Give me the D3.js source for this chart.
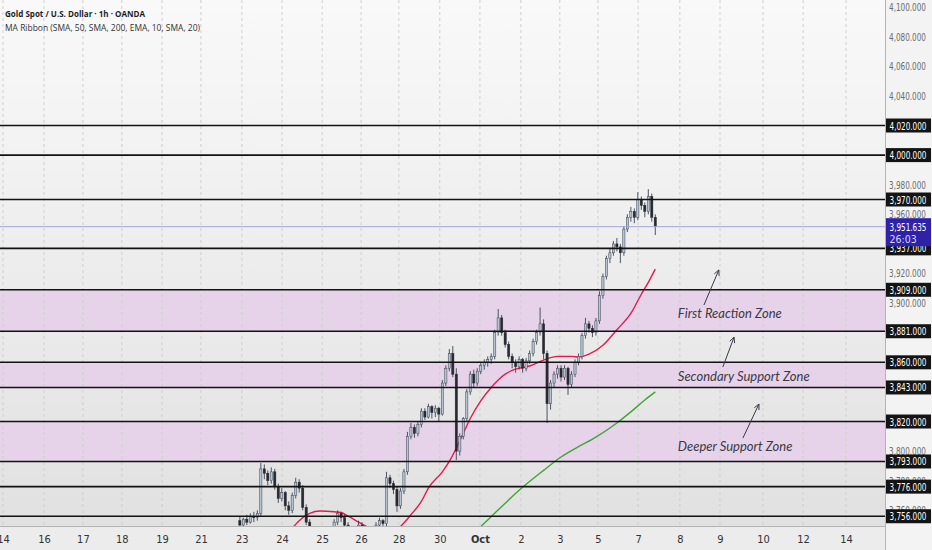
<!DOCTYPE html>
<html>
<head>
<meta charset="utf-8">
<script src="https://cdn.jsdelivr.net/npm/d3@7/dist/d3.min.js"></script>
<style>
  body { margin:0; background:#f4f4f4; }
  svg { display:block; }
</style>
</head>
<body>
<svg id="canvas" width="932" height="550"></svg>
<script>
// day labels on the time axis, and their position in trading-day units
var dayLabels = ["14","16","17","18","19","21","23","24","25","26","28","30","Oct","2","3","5","7","8","9","10","12","14"];
var dayPos    = [0, 1.02, 1.99, 2.96, 3.96, 4.93, 5.95, 6.95, 7.95, 8.92, 9.86, 10.88, 11.88, 12.90, 13.87, 14.82, 15.82, 16.86, 17.86, 18.93, 19.93, 21.00];

// price axis ticks that are not hidden by a tag
var priceTicks = [4100,4080,4060,4040,3980,3960,3920,3900,3800,3780,3760];

// horizontal levels drawn on the chart
var levels = [4020,4000,3970,3937,3909,3881,3860,3843,3820,3793,3776,3756];

// shaded zones [top, bottom]
var zones = [[3909,3881],[3860,3843],[3820,3793]];
var zoneNames = ["First Reaction Zone","Secondary Support Zone","Deeper Support Zone"];
// note anchor and arrow ends, as [day, price]
var noteAt    = [[16.81,3890],[16.81,3847.5],[16.81,3800]];
var arrowFrom = [[17.46,3898.7],[17.93,3856.8],[18.43,3808.8]];
var arrowTo   = [[17.83,3922.4],[18.21,3877],[18.83,3831.8]];

var lastPrice = 3951.635;
var countdown = "26:03";

// 2h candles [open, high, low, close], starting Sep 23
var candleStart = 5.90;
var candleStep = 2/23;
var bars = [
  [3753,3756,3749,3750],[3750,3755,3748,3754],[3754,3757,3750,3752],[3752,3758,3751,3756],
  [3756,3759,3752,3755],[3755,3760,3753,3758],[3758,3792,3756,3788],[3788,3791,3781,3785],
  [3785,3787,3777,3780],[3780,3789,3778,3786],[3786,3788,3774,3776],[3776,3778,3765,3768],
  [3768,3775,3766,3772],[3772,3773,3760,3763],[3763,3766,3757,3760],[3760,3772,3758,3770],
  [3770,3782,3768,3779],[3779,3781,3772,3775],[3775,3777,3760,3762],[3762,3764,3750,3752],
  [3752,3754,3743,3745],[3745,3747,3739,3742],[3742,3744,3735,3738],[3738,3743,3736,3740],
  [3740,3742,3733,3736],[3736,3744,3735,3741],[3741,3747,3739,3744],[3744,3754,3742,3752],
  [3752,3760,3750,3758],[3758,3759,3752,3755],[3755,3757,3748,3750],[3750,3752,3743,3745],
  [3745,3747,3740,3742],[3742,3748,3741,3746],[3746,3753,3745,3750],[3750,3752,3746,3748],
  [3748,3749,3742,3744],[3744,3746,3739,3741],[3741,3747,3740,3745],[3745,3752,3744,3750],
  [3750,3755,3748,3753],[3753,3754,3749,3751],[3751,3786,3749,3782],[3782,3784,3775,3778],
  [3778,3780,3771,3774],[3774,3776,3759,3763],[3763,3775,3761,3773],[3773,3788,3771,3786],
  [3786,3813,3784,3810],[3810,3819,3808,3816],[3816,3818,3809,3812],[3812,3820,3810,3818],
  [3818,3829,3816,3827],[3827,3829,3821,3823],[3823,3832,3822,3830],[3830,3831,3822,3826],
  [3826,3831,3823,3829],[3829,3830,3820,3825],[3825,3848,3824,3846],[3846,3858,3844,3856],
  [3856,3869,3854,3866],[3866,3871,3850,3852],[3852,3856,3794,3800],[3800,3812,3797,3810],
  [3810,3823,3808,3822],[3822,3842,3820,3840],[3840,3854,3838,3852],[3852,3855,3843,3846],
  [3846,3856,3844,3854],[3854,3860,3852,3858],[3858,3862,3855,3860],[3860,3864,3857,3862],
  [3862,3866,3859,3864],[3864,3882,3862,3880],[3880,3896,3878,3890],[3890,3892,3878,3880],
  [3880,3882,3870,3872],[3872,3874,3862,3864],[3864,3866,3856,3860],[3860,3862,3853,3857],
  [3857,3864,3855,3862],[3862,3863,3853,3856],[3856,3863,3854,3861],[3861,3868,3859,3866],
  [3866,3876,3864,3874],[3874,3882,3872,3880],[3880,3897,3878,3886],[3886,3889,3862,3866],
  [3866,3868,3819,3832],[3832,3848,3828,3846],[3846,3854,3843,3852],[3852,3858,3849,3856],
  [3856,3858,3847,3850],[3850,3858,3848,3856],[3856,3857,3838,3845],[3845,3854,3843,3852],
  [3852,3862,3850,3860],[3860,3866,3858,3864],[3864,3880,3862,3878],[3878,3890,3876,3886],
  [3886,3888,3880,3883],[3883,3885,3877,3880],[3880,3890,3878,3888],[3888,3908,3886,3905],
  [3905,3920,3903,3918],[3918,3932,3916,3930],[3930,3937,3927,3934],[3934,3942,3932,3940],
  [3940,3944,3935,3938],[3938,3940,3927,3934],[3934,3952,3932,3950],[3950,3960,3948,3958],
  [3958,3965,3955,3962],[3962,3964,3954,3958],[3958,3975,3956,3970],[3970,3972,3963,3966],
  [3966,3968,3958,3962],[3962,3977,3960,3972],[3972,3974,3955,3958],[3958,3960,3946,3951.6]
];

// moving averages [candle index, price]
var maRed = [[12,3742],[15,3748],[17,3753],[20,3758],[23,3759.5],[27,3759],[29,3758.5],[31,3756],
  [34,3752],[37,3748],[40,3742],[44,3745],[46,3749],[49,3757],[52,3766],[54,3775],[58,3786],
  [60,3793],[64,3812],[66,3822],[69,3834],[72,3843],[74,3848],[76,3852],[78,3854.5],[80,3856],
  [83,3857.5],[87,3861.5],[91,3864],[95,3864],[97,3863.5],[100,3865.5],[104,3871.5],[108,3882],
  [112,3893],[115,3906],[117,3914],[119,3923]];
var maGreen = [[64,3738],[69,3749],[73,3758],[77,3767],[80,3773.5],[87,3787],[92,3796],[97,3803],
  [102,3809.5],[108,3819],[112,3826.5],[116,3834.5],[119,3840]];

var W = 932, H = 550, plotW = 885, plotH = 526;
var canvas = d3.select("#canvas");

var x = d3.scaleLinear().domain([-0.075, 21.97]).range([0, plotW]);
var y = d3.scaleLinear().domain([3749.4, 4104.8]).range([plotH, 0]);
function tOf(i){ return candleStart + i*candleStep; }
function fmt(v){ return d3.format(",.3f")(v); }

var axisFont = "'Liberation Sans Narrow','DejaVu Sans Condensed',sans-serif";
var priceW = 37;   // width a price label takes on the axis

// backgrounds
var defs = canvas.append("defs");
var grad = defs.append("linearGradient").attr("id","bg").attr("x1",0).attr("y1",0).attr("x2",0).attr("y2",1);
grad.append("stop").attr("offset","0%").attr("stop-color","#f9f9f9");
grad.append("stop").attr("offset","100%").attr("stop-color","#e1e1e1");
defs.append("clipPath").attr("id","plotclip").append("rect").attr("width",plotW).attr("height",plotH);

canvas.append("rect").attr("width",W).attr("height",H).attr("fill","#f3f3f3");
canvas.append("rect").attr("width",plotW).attr("height",plotH).attr("fill","url(#bg)");
canvas.append("rect").attr("y",plotH).attr("width",plotW).attr("height",H-plotH).attr("fill","#ececec");

var plot = canvas.append("g").attr("clip-path","url(#plotclip)");

// zones
plot.selectAll(".zone").data(zones).enter().append("rect")
  .attr("x",0).attr("width",plotW)
  .attr("y",function(d){ return y(d[0]); })
  .attr("height",function(d){ return y(d[1]) - y(d[0]); })
  .attr("fill","#e6d3e9");

// vertical grid
plot.selectAll(".vgrid").data(dayPos).enter().append("line")
  .attr("x1",function(d){ return x(d); }).attr("x2",function(d){ return x(d); })
  .attr("y1",0).attr("y2",plotH)
  .attr("stroke","#cfcfcf").attr("stroke-width",1).attr("stroke-dasharray","3,3");

// moving averages
var maLine = d3.line()
  .x(function(d){ return x(tOf(d[0])); })
  .y(function(d){ return y(d[1]); })
  .curve(d3.curveMonotoneX);
plot.append("path").attr("d",maLine(maRed)).attr("fill","none").attr("stroke","#e8174f").attr("stroke-width",1.4);
plot.append("path").attr("d",maLine(maGreen)).attr("fill","none").attr("stroke","#3fa535").attr("stroke-width",1.4);

// candles
var bodyW = 2.2;
var candle = plot.selectAll(".candle").data(bars).enter().append("g");
candle.append("line")
  .attr("x1",function(d,i){ return x(tOf(i)); })
  .attr("x2",function(d,i){ return x(tOf(i)); })
  .attr("y1",function(d){ return y(d[1]); })
  .attr("y2",function(d){ return y(d[2]); })
  .attr("stroke","#3a4452").attr("stroke-width",0.9);
candle.append("rect")
  .attr("x",function(d,i){ return x(tOf(i)) - bodyW/2; })
  .attr("width",bodyW)
  .attr("y",function(d){ return y(Math.max(d[0],d[3])); })
  .attr("height",function(d){ return Math.max(0.8, Math.abs(y(d[0]) - y(d[3]))); })
  .attr("fill",function(d){ return d[3] >= d[0] ? "#b7c4d3" : "#262a30"; })
  .attr("stroke",function(d){ return d[3] >= d[0] ? "#3a4452" : "#262a30"; })
  .attr("stroke-width",0.5);

// current price line
plot.append("line")
  .attr("x1",0).attr("x2",plotW)
  .attr("y1",y(lastPrice)).attr("y2",y(lastPrice))
  .attr("stroke","#a3a6d6").attr("stroke-width",1);

// level lines
plot.selectAll(".level").data(levels).enter().append("line")
  .attr("x1",0).attr("x2",plotW)
  .attr("y1",function(d){ return y(d); }).attr("y2",function(d){ return y(d); })
  .attr("stroke","#121212").attr("stroke-width",1.6);

// zone notes and arrows
var noteFont = "Lato, 'Open Sans', sans-serif";
plot.selectAll(".note").data(zoneNames).enter().append("text")
  .attr("x",function(d,i){ return x(noteAt[i][0]); })
  .attr("y",function(d,i){ return y(noteAt[i][1]); })
  .attr("font-family",noteFont).attr("font-style","italic")
  .attr("font-size",13).attr("fill","#3b3848")
  .text(function(d){ return d; });

zoneNames.forEach(function(n,i){
  var x0 = x(arrowFrom[i][0]), y0 = y(arrowFrom[i][1]);
  var x1 = x(arrowTo[i][0]), y1 = y(arrowTo[i][1]);
  var a = Math.atan2(y1-y0, x1-x0), len = 6;
  var d = "M"+x0+","+y0+" L"+x1+","+y1+
    " M"+(x1 - len*Math.cos(a-0.45))+","+(y1 - len*Math.sin(a-0.45))+" L"+x1+","+y1+
    " L"+(x1 - len*Math.cos(a+0.45))+","+(y1 - len*Math.sin(a+0.45));
  plot.append("path").attr("d",d).attr("fill","none").attr("stroke","#3b3848").attr("stroke-width",1);
});

// axis separators
canvas.append("line").attr("x1",plotW+0.5).attr("x2",plotW+0.5).attr("y1",0).attr("y2",H)
  .attr("stroke","#b4b4b4");
canvas.append("line").attr("x1",0).attr("x2",plotW).attr("y1",plotH+0.5).attr("y2",plotH+0.5)
  .attr("stroke","#b4b4b4");

// time axis
var xAxis = d3.axisBottom(x).tickValues(dayPos).tickSize(0).tickPadding(9)
  .tickFormat(function(d,i){ return dayLabels[i]; });
var gx = canvas.append("g").attr("transform","translate(0,"+plotH+")").call(xAxis);
gx.select(".domain").remove();
gx.selectAll("text").attr("font-family",axisFont).attr("font-size",11).attr("fill","#333")
  .attr("font-weight",function(d,i){ return dayLabels[i]=="Oct" ? "bold" : "normal"; });

// price axis
var yAxis = d3.axisRight(y).tickValues(priceTicks).tickSize(0).tickPadding(4)
  .tickFormat(fmt);
var gy = canvas.append("g").attr("transform","translate("+plotW+",0)").call(yAxis);
gy.select(".domain").remove();
gy.selectAll("text").attr("font-family",axisFont).attr("font-size",10.5).attr("fill","#6c6c6c")
  .attr("textLength",priceW).attr("lengthAdjust","spacingAndGlyphs");

// level tags on the price axis
var tags = canvas.selectAll(".tag").data(levels).enter().append("g")
  .attr("transform",function(d){ return "translate("+(plotW+1)+","+y(d)+")"; });
tags.append("rect").attr("x",0).attr("y",-7).attr("width",45).attr("height",14).attr("fill","#141414");
tags.append("text").attr("x",3.5).attr("y",4).attr("font-family",axisFont).attr("font-size",10.5)
  .attr("textLength",priceW).attr("lengthAdjust","spacingAndGlyphs")
  .attr("fill","#fff").text(fmt);

// last price tag
var lp = canvas.append("g").attr("transform","translate("+(plotW+1)+","+y(lastPrice)+")");
lp.append("rect").attr("x",0).attr("y",-8.5).attr("width",45).attr("height",28).attr("fill","#2f22a8");
lp.append("text").attr("x",3.5).attr("y",4).attr("font-family",axisFont).attr("font-size",10.5)
  .attr("textLength",priceW).attr("lengthAdjust","spacingAndGlyphs")
  .attr("fill","#fff").text(fmt(lastPrice));
lp.append("text").attr("x",3.5).attr("y",16).attr("font-family",axisFont).attr("font-size",10.5)
  .attr("fill","#d8d6ff").text(countdown);

// legend
var legendFont = "'Open Sans', 'DejaVu Sans', sans-serif";
canvas.append("text").attr("x",5).attr("y",17).attr("font-family",legendFont)
  .attr("font-size",9.5).attr("font-weight","bold").attr("fill","#1e1e1e")
  .attr("textLength",140).attr("lengthAdjust","spacingAndGlyphs")
  .text("Gold Spot / U.S. Dollar \u00b7 1h \u00b7 OANDA");
canvas.append("text").attr("x",5).attr("y",31).attr("font-family",legendFont)
  .attr("font-size",9.5).attr("fill","#333")
  .attr("textLength",195).attr("lengthAdjust","spacingAndGlyphs")
  .text("MA Ribbon (SMA, 50, SMA, 200, EMA, 10, SMA, 20)");
</script>
</body>
</html>
